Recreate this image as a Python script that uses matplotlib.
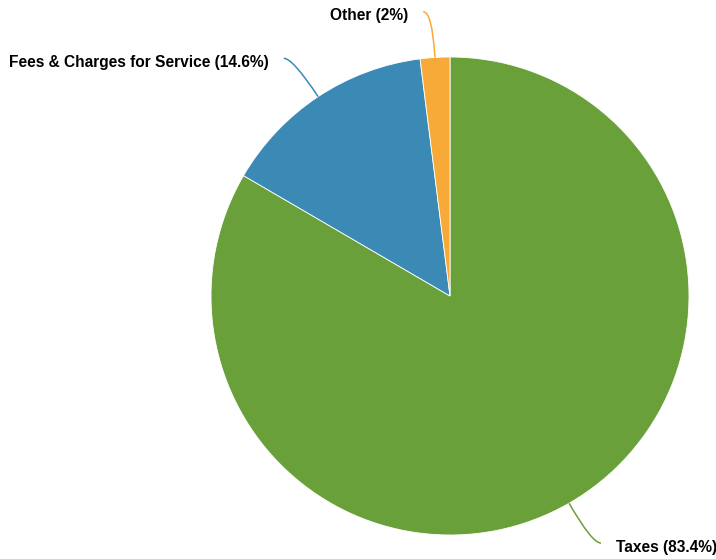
import numpy as np
import matplotlib.pyplot as plt
from matplotlib.path import Path
from matplotlib.patches import PathPatch

labels = ['Taxes', 'Fees & Charges for Service', 'Other']
values = [83.4, 14.6, 2.0]
colors = ['#6aa03a', '#3b8ab5', '#f7aa38']

W, H = 716, 559
cx, cy, R = 450, 296, 239  # pie centre and radius in pixels

fig = plt.figure(figsize=(W / 100, H / 100), dpi=100)
ax = fig.add_axes([0, 0, 1, 1])
wedges, _ = ax.pie(values, colors=colors, startangle=90, counterclock=False,
                   radius=1, wedgeprops=dict(edgecolor='white', linewidth=0.6))
ax.set_xlim(-cx / R, (W - cx) / R)
ax.set_ylim(-(H - cy) / R, cy / R)
ax.set_aspect('equal')
ax.axis('off')

# curved leader lines with labels
px = 1.0 / R
total = sum(values)
start = 0.0
for lab, val, col in zip(labels, values, colors):
    mid = (start + val / 2) / total * 2 * np.pi
    start += val
    dx, dy = np.sin(mid), np.cos(mid)
    p0 = (dx, dy)
    p1 = (dx * (1 + 46 * px), dy * (1 + 46 * px))
    side = 1 if dx >= 0 else -1
    p2 = (p1[0] + side * 9 * px, p1[1])
    path = Path([p0, p1, p2], [Path.MOVETO, Path.CURVE3, Path.CURVE3])
    ax.add_patch(PathPatch(path, fill=False, edgecolor=col, lw=1.1))
    ax.text(p2[0] + side * 15 * px, p2[1] - 4 * px, f'{lab} ({val:g}%)',
            ha='left' if side > 0 else 'right', va='center',
            fontsize=11.2, fontweight='bold', family='Liberation Sans')

fig.savefig('out.png', dpi=100)
